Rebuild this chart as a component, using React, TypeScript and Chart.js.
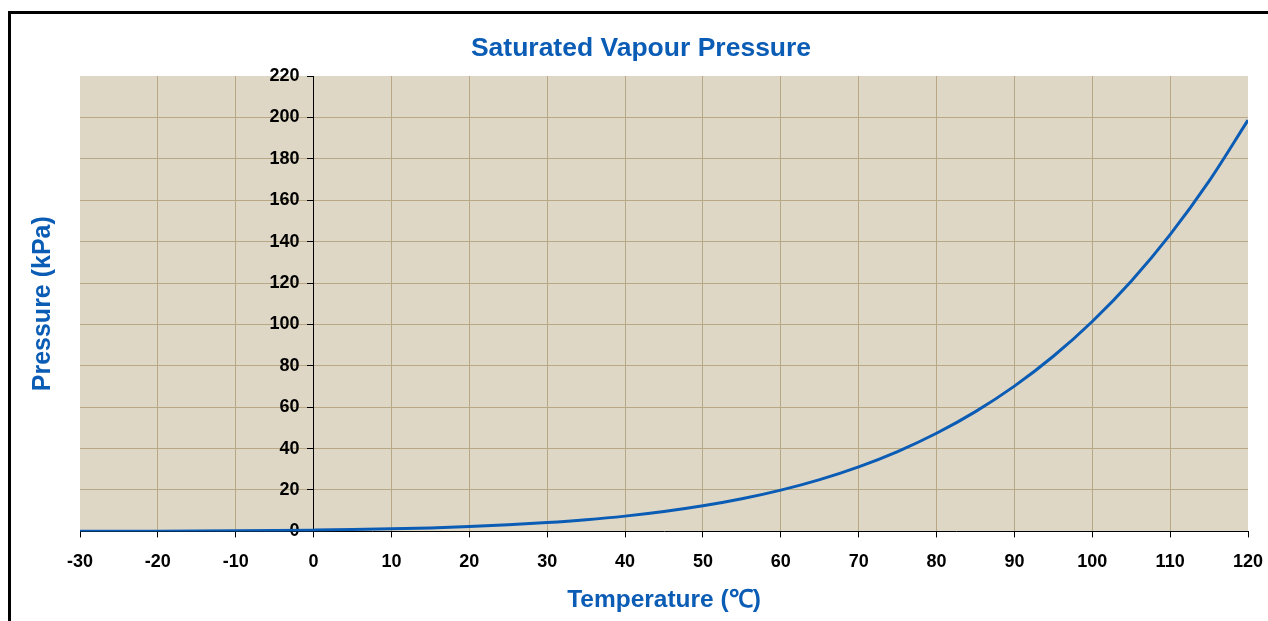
import React, { useEffect, useRef } from 'react';
import { Chart, registerables } from 'chart.js';

Chart.register(...registerables);

const temperatures = [-30, -25, -20, -15, -10, -5, 0, 5, 10, 15, 20, 25, 30, 35, 40, 45, 50, 55, 60, 65, 70, 75, 80, 85, 90, 95, 100, 105, 110, 115, 120];
const pressures = [0.04, 0.06, 0.1, 0.17, 0.26, 0.4, 0.61, 0.87, 1.23, 1.7, 2.34, 3.17, 4.25, 5.63, 7.38, 9.59, 12.35, 15.76, 19.95, 25.04, 31.2, 38.59, 47.41, 57.87, 70.18, 84.6, 101.42, 120.9, 143.38, 169.18, 198.67];

const xMin = -30;
const xMax = 120;
const xStep = 10;
const yMin = 0;
const yMax = 220;
const yStep = 20;

const chartTitle = 'Saturated Vapour Pressure';
const xTitle = 'Temperature (\u2103)';
const yTitle = 'Pressure (kPa)';

const BLUE = '#0B5CB5';
const PLOT_BG = '#DFD7C6';
const GRID = '#B9A886';
const FONT = '"Liberation Sans", Arial, Helvetica, sans-serif';

export default function App() {
  const canvasRef = useRef<HTMLCanvasElement | null>(null);

  useEffect(() => {
    if (!canvasRef.current) return;

    const decorPlugin = {
      id: 'decor',
      beforeDraw(chart: any) {
        const { ctx, chartArea } = chart;
        // shift the y-axis tick labels to the left of the centred axis line
        const ys = chart.scales.y;
        const items = ys.getLabelItems(chartArea);
        items.forEach((it: any) => {
          if (!it._shifted) {
            it.options.translation[0] -= 14;
            it._shifted = true;
          }
        });
        ctx.save();
        ctx.fillStyle = PLOT_BG;
        ctx.fillRect(chartArea.left, chartArea.top, chartArea.right - chartArea.left, chartArea.bottom - chartArea.top);
        ctx.fillStyle = '#000';
        ctx.fillRect(8, 11, 3, chart.height);
        ctx.fillRect(8, 11, chart.width, 3);
        ctx.restore();
      },
      afterDraw(chart: any) {
        const { ctx, chartArea } = chart;
        const cx = (chartArea.left + chartArea.right) / 2;
        const cy = (chartArea.top + chartArea.bottom) / 2;
        ctx.save();
        ctx.fillStyle = BLUE;
        ctx.textAlign = 'center';
        ctx.textBaseline = 'middle';
        ctx.font = `bold 26.5px ${FONT}`;
        ctx.fillText(chartTitle, 641, 49);
        ctx.font = `bold 24.5px ${FONT}`;
        ctx.fillText(xTitle, cx, 600);
        ctx.translate(43, cy);
        ctx.rotate(-Math.PI / 2);
        ctx.font = `bold 25px ${FONT}`;
        ctx.fillText(yTitle, 0, 0);
        ctx.restore();
      },
    };

    const chart = new Chart(canvasRef.current, {
      type: 'line',
      data: {
        datasets: [
          {
            data: temperatures.map((t, i) => ({ x: t, y: pressures[i] })),
            borderColor: BLUE,
            borderWidth: 3,
            pointRadius: 0,
            fill: false,
            cubicInterpolationMode: 'monotone',
          },
        ],
      },
      options: {
        animation: false,
        responsive: true,
        maintainAspectRatio: false,
        layout: { padding: { left: 80, top: 76, right: 20, bottom: 35 } },
        plugins: {
          legend: { display: false },
          tooltip: { enabled: false },
          title: { display: false },
        },
        scales: {
          x: {
            type: 'linear',
            min: xMin,
            max: xMax,
            ticks: {
              stepSize: xStep,
              color: '#000',
              font: { family: FONT, size: 18, weight: 'bold', lineHeight: 2.7 },
              padding: 0,
              maxRotation: 0,
            },
            grid: {
              color: (c: any) => (c.tick && (c.tick.value === xMin || c.tick.value === xMax || c.tick.value === 0) ? 'rgba(0,0,0,0)' : GRID),
              tickColor: '#000',
              tickLength: 6,
              lineWidth: 1,
            },
            border: { display: true, color: '#000', width: 1 },
          },
          y: {
            type: 'linear',
            min: yMin,
            max: yMax,
            position: { x: 0 },
            ticks: {
              stepSize: yStep,
              color: '#000',
              font: { family: FONT, size: 18, weight: 'bold' },
              padding: 9,
            },
            grid: {
              color: (c: any) => (c.tick && (c.tick.value === yMin || c.tick.value === yMax) ? 'rgba(0,0,0,0)' : GRID),
              tickColor: '#000',
              tickLength: 6,
              lineWidth: 1,
            },
            border: { display: true, color: '#000', width: 1 },
          },
        },
      },
      plugins: [decorPlugin],
    } as any);

    return () => chart.destroy();
  }, []);

  return (
    <div style={{ position: 'fixed', left: 0, top: 0, width: 1268, height: 621, background: '#fff' }}>
      <canvas ref={canvasRef} />
    </div>
  );
}
